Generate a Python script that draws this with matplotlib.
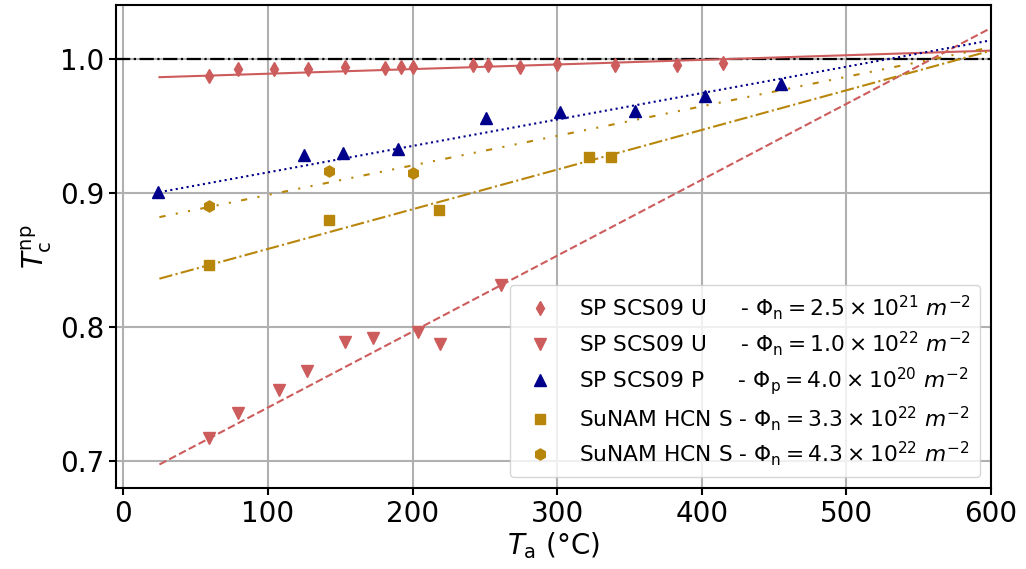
import numpy as np
import matplotlib
matplotlib.use("Agg")
import matplotlib.pyplot as plt

# ---------------- data ----------------
# SP SCS09 U, Phi_n = 2.5e21 (diamonds)
u25_x = [59, 79, 104, 128, 153, 181, 192, 200, 242, 252, 274, 300, 340, 383, 415]
u25_y = [0.987, 0.992, 0.992, 0.992, 0.994, 0.993, 0.994, 0.994, 0.995, 0.995,
         0.994, 0.996, 0.995, 0.995, 0.997]
# SP SCS09 U, Phi_n = 1.0e22 (triangles down)
u10_x = [59, 79, 108, 127, 153, 173, 204, 219, 261]
u10_y = [0.717, 0.736, 0.753, 0.767, 0.789, 0.792, 0.796, 0.787, 0.831]
# SP SCS09 P, Phi_p = 4.0e20 (triangles up)
p4_x = [24, 125, 152, 190, 251, 302, 354, 402, 455]
p4_y = [0.9005, 0.928, 0.930, 0.933, 0.956, 0.960, 0.961, 0.972, 0.981]
# SuNAM HCN S, Phi_n = 3.3e22 (squares)
s33_x = [59, 142, 218, 322, 337]
s33_y = [0.846, 0.880, 0.887, 0.927, 0.927]
# SuNAM HCN S, Phi_n = 4.3e22 (hexagons)
s43_x = [59, 142, 200]
s43_y = [0.890, 0.916, 0.915]

# linear fits, evaluated at the ends of the fitted range
fit_x = [25, 600]
fit_u25 = [0.9862, 1.0060]
fit_u10 = [0.6975, 1.0229]
fit_p4 = [0.9005, 1.0137]
fit_s33 = [0.8360, 1.0060]
fit_s43 = [0.8819, 1.0085]

labels = [
    r'SP SCS09 U     - $\Phi_\mathrm{n} = 2.5 \times 10^{21}\ m^{-2}$',
    r'SP SCS09 U     - $\Phi_\mathrm{n} = 1.0 \times 10^{22}\ m^{-2}$',
    r'SP SCS09 P     - $\Phi_\mathrm{p} = 4.0 \times 10^{20}\ m^{-2}$',
    r'SuNAM HCN S - $\Phi_\mathrm{n} = 3.3 \times 10^{22}\ m^{-2}$',
    r'SuNAM HCN S - $\Phi_\mathrm{n} = 4.3 \times 10^{22}\ m^{-2}$',
]

# ---------------- style ----------------
RED = '#CD5C5C'
BLUE = '#00008B'
GOLD = '#B8860B'

plt.rcParams['font.family'] = ['DejaVu Sans']
plt.rcParams['mathtext.fontset'] = 'dejavusans'

fig = plt.figure(figsize=(10.26, 5.69), dpi=100)
ax = fig.add_axes([0.1131, 0.1424, 0.8528, 0.8488])

ax.grid(True, color='#b0b0b0', linewidth=1.5)
ax.set_axisbelow(True)

ax.axhline(1.0, color='black', linestyle='-.', linewidth=1.6, zorder=1.5)

ax.plot(fit_x, fit_u25, color=RED, linestyle='-', linewidth=1.5)
ax.plot(fit_x, fit_u10, color=RED, linestyle='--', linewidth=1.5)
ax.plot(fit_x, fit_p4, color=BLUE, linestyle=':', linewidth=1.5)
ax.plot(fit_x, fit_s33, color=GOLD, linestyle='-.', linewidth=1.5)
ax.plot(fit_x, fit_s43, color=GOLD, linestyle=(0, (3, 5, 1, 5, 1, 5)), linewidth=1.5)

ax.plot(u25_x, u25_y, linestyle='none', marker='d', ms=7, color=RED, label=labels[0])
ax.plot(u10_x, u10_y, linestyle='none', marker='v', ms=8, color=RED, label=labels[1])
ax.plot(p4_x, p4_y, linestyle='none', marker='^', ms=8, color=BLUE, label=labels[2])
ax.plot(s33_x, s33_y, linestyle='none', marker='s', ms=7.5, color=GOLD, label=labels[3])
ax.plot(s43_x, s43_y, linestyle='none', marker='h', ms=8, color=GOLD, label=labels[4])

ax.set_xlim(-5, 600)
ax.set_ylim(0.68, 1.04)
ax.set_xticks([0, 100, 200, 300, 400, 500, 600])
ax.set_yticks([0.7, 0.8, 0.9, 1.0])

ax.tick_params(labelsize=20, width=1.5, length=5)
for sp in ax.spines.values():
    sp.set_linewidth(1.5)

ax.set_xlabel(r'$T_\mathrm{a}$ (°C)', fontsize=20, labelpad=2)
ax.set_ylabel(r'$T_\mathrm{c}^\mathrm{np}$', fontsize=20)

ax.legend(loc='lower right', fontsize=15.7, labelspacing=0.32)

fig.savefig('out.png', dpi=100)
